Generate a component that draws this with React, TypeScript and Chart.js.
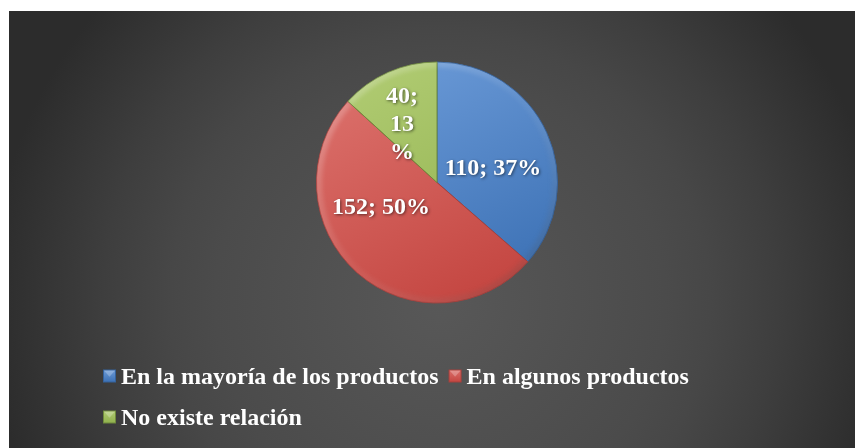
import React, { useEffect, useRef } from "react";
import { Chart, registerables } from "chart.js";

Chart.register(...registerables);

// ---- data ----
const categories = ["En la mayoría de los productos", "En algunos productos", "No existe relación"];
const counts = [110, 152, 40];
const percents = [37, 50, 13];

// ---- styles ----
const baseColors = ["#4F81BD", "#C0504D", "#9BBB59"];
const lightColors = ["#6c9bd8", "#dc716c", "#b0cb72"];
const darkColors = ["#3b70b4", "#c3443f", "#8fb04c"];
const edgeColors = ["#35629c", "#a8403c", "#6f8a3c"];
const FONT = '"Liberation Serif", "Times New Roman", serif';

function wrapText(ctx: CanvasRenderingContext2D, text: string, maxW?: number): string[] {
  if (!maxW) return [text];
  const lines: string[] = [];
  let cur = "";
  for (const ch of text) {
    const t = cur + ch;
    if (cur && ctx.measureText(t).width > maxW) {
      lines.push(cur.trim());
      cur = ch === " " ? "" : ch;
    } else cur = t;
  }
  if (cur.trim()) lines.push(cur.trim());
  return lines;
}

const bevelPlugin = {
  id: "bevel",
  afterDatasetsDraw(chart: any) {
    const ctx = chart.ctx as CanvasRenderingContext2D;
    const meta = chart.getDatasetMeta(0);
    meta.data.forEach((arc: any) => {
      const { x, y, startAngle, endAngle, outerRadius } = arc.getProps(
        ["x", "y", "startAngle", "endAngle", "outerRadius"], true);
      ctx.save();
      ctx.beginPath();
      ctx.moveTo(x, y);
      ctx.arc(x, y, outerRadius, startAngle, endAngle);
      ctx.closePath();
      ctx.clip();
      const g = ctx.createLinearGradient(x - outerRadius, y - outerRadius, x + outerRadius, y + outerRadius);
      g.addColorStop(0, "rgba(255,255,255,0.28)");
      g.addColorStop(0.5, "rgba(255,255,255,0.05)");
      g.addColorStop(1, "rgba(0,0,0,0.22)");
      ctx.strokeStyle = g;
      ctx.lineWidth = 9;
      ctx.filter = "blur(2px)";
      ctx.beginPath();
      ctx.arc(x, y, outerRadius - 1, startAngle, endAngle);
      ctx.stroke();
      ctx.restore();
    });
  },
};

const sliceLabelPlugin = {
  id: "sliceLabels",
  afterDatasetsDraw(chart: any, _args: any, opts: any) {
    const ctx = chart.ctx as CanvasRenderingContext2D;
    const meta = chart.getDatasetMeta(0);
    ctx.save();
    ctx.font = `bold 24px ${FONT}`;
    ctx.fillStyle = "#ffffff";
    ctx.textAlign = "center";
    ctx.textBaseline = "middle";
    ctx.shadowColor = "rgba(0,0,0,0.55)";
    ctx.shadowBlur = 3;
    ctx.shadowOffsetX = 1;
    ctx.shadowOffsetY = 1;
    meta.data.forEach((arc: any, i: number) => {
      const { x, y, startAngle, endAngle, outerRadius } = arc.getProps(
        ["x", "y", "startAngle", "endAngle", "outerRadius"], true);
      const mid = (startAngle + endAngle) / 2 + ((opts.angleShift[i] || 0) * Math.PI) / 180;
      const r = outerRadius * opts.radius[i];
      const px = x + Math.cos(mid) * r;
      const py = y + Math.sin(mid) * r;
      const text = `${chart.data.datasets[0].data[i]}; ${percents[i]}%`;
      const lines = wrapText(ctx, text, opts.maxWidth[i]);
      const lh = 28;
      lines.forEach((ln, k) => ctx.fillText(ln, px, py + (k - (lines.length - 1) / 2) * lh));
    });
    ctx.restore();
  },
};

function drawMarker(ctx: CanvasRenderingContext2D, x: number, y: number, s: number, i: number) {
  ctx.save();
  ctx.fillStyle = edgeColors[i];
  ctx.fillRect(x, y, s, s);
  const g = ctx.createLinearGradient(x, y, x, y + s);
  g.addColorStop(0, lightColors[i]);
  g.addColorStop(1, darkColors[i]);
  ctx.fillStyle = g;
  ctx.fillRect(x + 1, y + 1, s - 2, s - 2);
  ctx.fillStyle = "rgba(255,255,255,0.25)";
  ctx.beginPath();
  ctx.moveTo(x + 1, y + 1);
  ctx.lineTo(x + s - 1, y + 1);
  ctx.lineTo(x + s / 2, y + s * 0.55);
  ctx.closePath();
  ctx.fill();
  ctx.restore();
}

const legendPlugin = {
  id: "customLegend",
  afterDraw(chart: any, _args: any, opts: any) {
    const ctx = chart.ctx as CanvasRenderingContext2D;
    ctx.save();
    ctx.font = `bold 24px ${FONT}`;
    ctx.textBaseline = "middle";
    ctx.textAlign = "left";
    let x = opts.left;
    let y = opts.top;
    const labels: string[] = chart.data.labels;
    labels.forEach((lab, i) => {
      const w = opts.box + opts.boxGap + ctx.measureText(lab).width;
      if (x > opts.left && x + w > opts.maxRight) {
        x = opts.left;
        y += opts.rowGap;
      }
      drawMarker(ctx, x, y - opts.box / 2 - 0.5, opts.box, i);
      ctx.fillStyle = "#ffffff";
      ctx.fillText(lab, x + opts.box + opts.boxGap, y + 1);
      x += w + opts.itemGap;
    });
    ctx.restore();
  },
};

export default function App() {
  const canvasRef = useRef<HTMLCanvasElement | null>(null);

  useEffect(() => {
    if (!canvasRef.current) return;
    const chart = new Chart(canvasRef.current, {
      type: "pie",
      data: {
        labels: categories,
        datasets: [
          {
            data: counts,
            backgroundColor: (c: any) => {
              const i = c.dataIndex;
              const a = c.chart.chartArea;
              if (!a) return baseColors[i];
              const cx = (a.left + a.right) / 2;
              const cy = (a.top + a.bottom) / 2;
              const r = Math.min(a.width, a.height) / 2;
              const g = c.chart.ctx.createLinearGradient(cx - r * 0.5, cy - r, cx + r * 0.5, cy + r);
              g.addColorStop(0, lightColors[i]);
              g.addColorStop(1, darkColors[i]);
              return g;
            },
            borderColor: edgeColors,
            borderWidth: 1,
          },
        ],
      },
      options: {
        animation: false,
        responsive: true,
        maintainAspectRatio: false,
        layout: { padding: { top: 50.5, bottom: 144.5, left: 10, right: 0 } },
        plugins: {
          legend: { display: false },
          tooltip: { enabled: false },
          sliceLabels: { angleShift: [10.8, 23.8, -7.5], radius: [0.478, 0.51, 0.559], maxWidth: [0, 0, 35] },
          customLegend: { left: 94, top: 365.5, rowGap: 41, box: 13, boxGap: 5, itemGap: 10, maxRight: 800 },
        } as any,
      },
      plugins: [bevelPlugin, sliceLabelPlugin, legendPlugin],
    });
    return () => chart.destroy();
  }, []);

  return (
    <div
      style={{
        position: "fixed",
        left: 9,
        top: 11,
        width: 846,
        height: 437,
        background:
          "radial-gradient(circle 450px at 431px 290px, #585858 0%, #4b4b4b 50%, #474747 60%, #3e3e3e 75%, #2c2c2c 100%)",
      }}
    >
      <canvas ref={canvasRef} />
    </div>
  );
}
